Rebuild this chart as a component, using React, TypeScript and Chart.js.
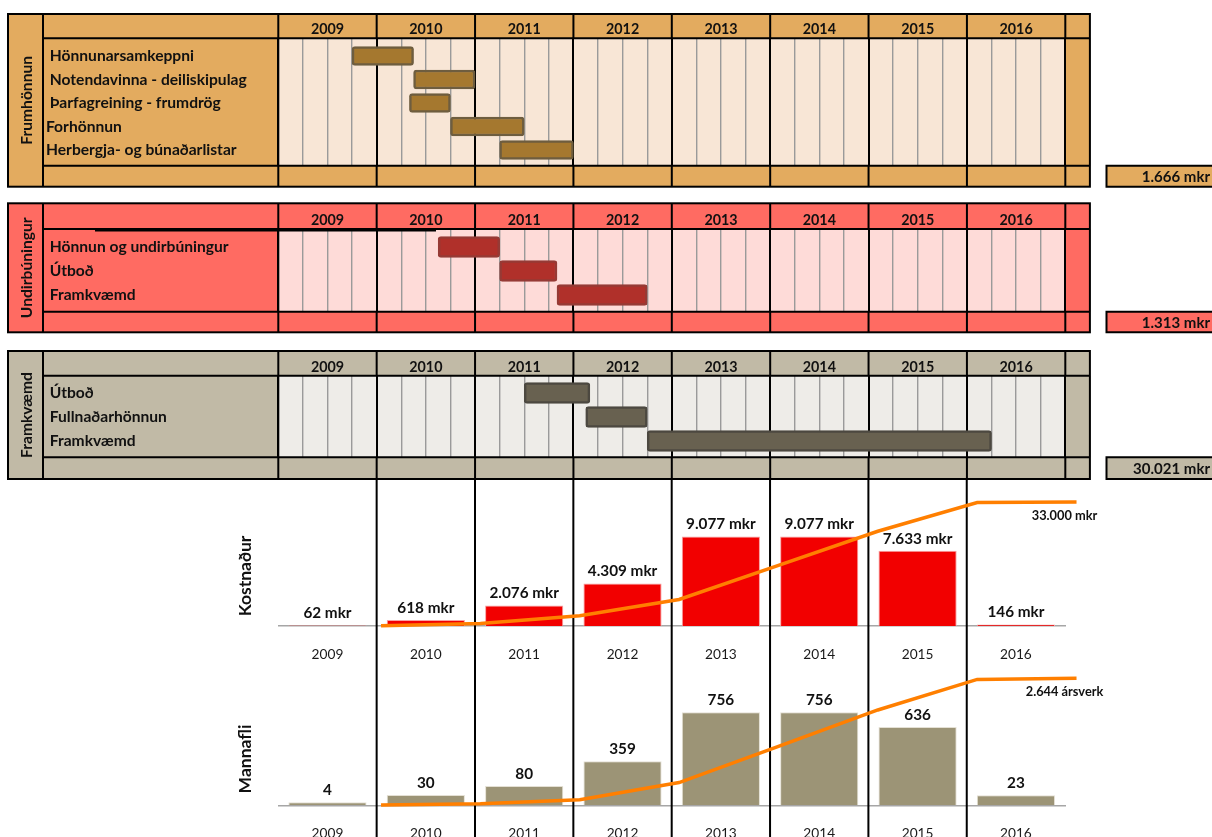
import React, { useEffect, useRef } from "react";
import { Chart, registerables } from "chart.js";

Chart.register(...registerables);

const FONT = "Lato, Carlito, Calibri, 'DejaVu Sans', sans-serif";
Chart.defaults.font.family = FONT;

// ---------------- data ----------------
const YEARS = ["2009", "2010", "2011", "2012", "2013", "2014", "2015", "2016"];
const FIRST_YEAR = 2009;
const LAST_YEAR_END = 2017;
const TIMELINE_END = 2017.25;

const frumTasks = [" Hönnunarsamkeppni", " Notendavinna - deiliskipulag", " Þarfagreining - frumdrög", "Forhönnun", "Herbergja- og búnaðarlistar"];
const frumStart = [2009.75, 2010.375, 2010.333, 2010.75, 2011.25];
const frumEnd = [2010.375, 2011.0, 2010.75, 2011.5, 2012.0];
const frumTotal = "1.666 mkr";

const undirTasks = [" Hönnun og undirbúningur", " Útboð", " Framkvæmd"];
const undirStart = [2010.625, 2011.25, 2011.833];
const undirEnd = [2011.25, 2011.833, 2012.75];
const undirTotal = "1.313 mkr";

const framTasks = [" Útboð", " Fullnaðarhönnun", " Framkvæmd"];
const framStart = [2011.5, 2012.125, 2012.75];
const framEnd = [2012.167, 2012.75, 2016.25];
const framTotal = "30.021 mkr";

const costValues = [62, 618, 2076, 4309, 9077, 9077, 7633, 146];
const costLabels = ["62 mkr", "618 mkr", "2.076 mkr", "4.309 mkr", "9.077 mkr", "9.077 mkr", "7.633 mkr", "146 mkr"];
const cumulativeAt = [2010, 2011, 2012, 2013, 2014, 2015, 2016, 2017];
const costCumulative = [62, 680, 2756, 7065, 16142, 25219, 32852, 33000];
const costTotalLabel = "33.000 mkr";

// bar heights as drawn in the picture (ársverk); labels as printed
const manpowerBars = [24, 84, 157, 359, 756, 756, 636, 81];
const manpowerLabels = ["4", "30", "80", "359", "756", "756", "636", "23"];
const manpowerCumulative = [4, 34, 114, 473, 1229, 1985, 2621, 2644];
const manpowerTotalLabel = "2.644 ársverk";

// ---------------- layout ----------------
const PAGE_W = 1212;
const FRAME_LEFT = 8;
const TITLE_COL_RIGHT = 43;
const LABEL_LEFT = 46;
const PLOT_LEFT = 278.3;
const PLOT_RIGHT = 1089.9;
const PLOT_RIGHT_YEARS = 1065.1;
const BOX_LEFT = 1106.5;

type GanttPanel = {
  top: number; height: number; panelTop: number; headerBottom: number; bodyBottom: number; panelBottom: number;
  yMin: number; yMax: number; title: string; total: string; tasks: string[]; starts: number[]; ends: number[];
  dark: string; light: string; barFill: string; barBorder: string; barThickness: number; extraLine?: boolean;
};

function ganttConfig(p: GanttPanel): any {
  const T = p.panelTop - p.top;
  const HB = p.headerBottom - p.top;
  const BB = p.bodyBottom - p.top;
  const B = p.panelBottom - p.top;
  const xTicks: { value: number }[] = [];
  for (let y = FIRST_YEAR; y < LAST_YEAR_END; y++) for (let q = 0; q < 4; q++) xTicks.push({ value: y + q / 4 });
  xTicks.push({ value: LAST_YEAR_END });
  xTicks.push({ value: TIMELINE_END });
  const isYear = (v: number) => v !== undefined && Math.abs(v - Math.round(v)) < 1e-9;

  const frame = {
    id: "ganttFrame",
    beforeDraw(chart: any) {
      const { ctx, chartArea: ca, scales } = chart;
      const x = scales.x;
      ctx.save();
      ctx.fillStyle = p.dark;
      ctx.fillRect(FRAME_LEFT, T, ca.right - FRAME_LEFT, B - T);
      ctx.fillStyle = p.light;
      ctx.fillRect(ca.left, ca.top, x.getPixelForValue(LAST_YEAR_END) - ca.left, ca.bottom - ca.top);
      ctx.fillStyle = p.dark;
      ctx.fillRect(BOX_LEFT, BB, PAGE_W - BOX_LEFT, B - BB);
      ctx.restore();
    },
    afterDraw(chart: any) {
      const { ctx, chartArea: ca, scales } = chart;
      const x = scales.x;
      ctx.save();
      ctx.strokeStyle = "#000";
      ctx.lineWidth = 2;
      ctx.strokeRect(FRAME_LEFT, T, ca.right - FRAME_LEFT, B - T);
      ctx.beginPath();
      ctx.moveTo(TITLE_COL_RIGHT, T); ctx.lineTo(TITLE_COL_RIGHT, B);
      ctx.moveTo(ca.left, T); ctx.lineTo(ca.left, B);
      ctx.moveTo(TITLE_COL_RIGHT, HB); ctx.lineTo(ca.right, HB);
      ctx.moveTo(TITLE_COL_RIGHT, BB); ctx.lineTo(ca.right, BB);
      for (let yr = FIRST_YEAR + 1; yr <= LAST_YEAR_END; yr++) {
        const px = x.getPixelForValue(yr);
        ctx.moveTo(px, T); ctx.lineTo(px, HB);
        ctx.moveTo(px, BB); ctx.lineTo(px, B);
      }
      ctx.moveTo(PAGE_W + 2, BB); ctx.lineTo(BOX_LEFT, BB); ctx.lineTo(BOX_LEFT, B); ctx.lineTo(PAGE_W + 2, B);
      ctx.stroke();
      if (p.extraLine) {
        ctx.lineWidth = 2.4;
        ctx.beginPath();
        ctx.moveTo(95, HB + 1.2); ctx.lineTo(436, HB + 1.2);
        ctx.stroke();
      }
      ctx.fillStyle = "#111";
      ctx.textBaseline = "middle";
      ctx.textAlign = "right";
      ctx.font = `bold 15px ${FONT}`;
      ctx.fillText(p.total, 1210, (BB + B) / 2 + 1);
      ctx.font = `bold 15.6px ${FONT}`;
      ctx.translate((FRAME_LEFT + TITLE_COL_RIGHT) / 2 + 1, (T + B) / 2);
      ctx.rotate(-Math.PI / 2);
      ctx.textAlign = "center";
      ctx.fillText(p.title, 0, 0);
      ctx.restore();
    },
  };

  return {
    type: "bar",
    data: {
      labels: p.tasks,
      datasets: [
        {
          data: p.tasks.map((_, i) => ({ x: [p.starts[i], p.ends[i]], y: i })),
          backgroundColor: p.barFill,
          borderColor: p.barBorder,
          borderWidth: 2.5,
          borderRadius: 3,
          borderSkipped: false,
          barThickness: p.barThickness,
          grouped: false,
        },
      ],
    },
    options: {
      indexAxis: "y",
      animation: false,
      responsive: false,
      layout: { padding: { top: T, left: LABEL_LEFT, right: PAGE_W - PLOT_RIGHT, bottom: p.height - BB } },
      plugins: { legend: { display: false }, tooltip: { enabled: false } },
      scales: {
        x: {
          type: "linear",
          position: "top",
          offset: false,
          min: FIRST_YEAR,
          max: TIMELINE_END,
          afterBuildTicks: (s: any) => { s.ticks = xTicks.map((t) => ({ ...t })); },
          afterFit: (s: any) => { s.height = HB - T; },
          border: { display: false },
          grid: {
            drawTicks: false,
            color: (c: any) => (isYear(c.tick?.value) ? "#000" : "#9a9a9a"),
            lineWidth: (c: any) => (isYear(c.tick?.value) ? 2 : 1.4),
          },
          ticks: {
            autoSkip: false,
            maxRotation: 0,
            minRotation: 0,
            padding: 0,
            color: "#111",
            font: { size: 14.3, weight: "bold" },
            callback: (v: number) => {
              const yr = Math.floor(v);
              return Math.abs(v - yr - 0.5) < 1e-9 && yr < LAST_YEAR_END ? YEARS[yr - FIRST_YEAR] : "";
            },
          },
        },
        y: {
          type: "linear",
          reverse: true,
          offset: false,
          min: p.yMin,
          max: p.yMax,
          afterBuildTicks: (s: any) => { s.ticks = p.tasks.map((_, i) => ({ value: i })); },
          afterFit: (s: any) => { s.width = PLOT_LEFT - LABEL_LEFT; },
          grid: { display: false, drawTicks: false },
          border: { display: false },
          ticks: {
            autoSkip: false,
            crossAlign: "far",
            padding: 0,
            color: "#111",
            font: { size: 15.6, weight: "bold" },
            callback: (v: number) => p.tasks[v] ?? "",
          },
        },
      },
    },
    plugins: [frame],
  };
}

type SeriesPanel = {
  top: number; height: number; baseline: number; bars: number[]; labels: string[]; cumulative: number[];
  totalLabel: string; title: string; titleY: number; barColor: string; barBorder: string; yMax: number; lineMax: number;
};

function seriesConfig(s: SeriesPanel): any {
  const base = s.baseline - s.top;
  const deco = {
    id: "seriesDeco",
    beforeDatasetsDraw(chart: any) {
      const { ctx } = chart;
      const x = chart.scales.x;
      ctx.save();
      ctx.strokeStyle = "#000";
      ctx.lineWidth = 2;
      ctx.beginPath();
      for (let i = 1; i < YEARS.length; i++) {
        const px = (x.getPixelForValue(i - 1) + x.getPixelForValue(i)) / 2;
        ctx.moveTo(px, 0); ctx.lineTo(px, chart.height);
      }
      ctx.stroke();
      ctx.restore();
    },
    afterDatasetsDraw(chart: any) {
      const { ctx } = chart;
      ctx.save();
      ctx.fillStyle = "#111";
      ctx.textAlign = "center";
      ctx.textBaseline = "middle";
      ctx.font = `bold 15.3px ${FONT}`;
      chart.getDatasetMeta(1).data.forEach((el: any, i: number) => ctx.fillText(s.labels[i], el.x, el.y - 12));
      const lm = chart.getDatasetMeta(0).data;
      const last = lm[lm.length - 1];
      ctx.font = `bold 12.8px ${FONT}`;
      ctx.fillText(s.totalLabel, last.x - 12, last.y + 14);
      ctx.font = `bold 17.5px ${FONT}`;
      ctx.translate(245, s.titleY - s.top);
      ctx.rotate(-Math.PI / 2);
      ctx.fillText(s.title, 0, 0);
      ctx.restore();
    },
  };
  return {
    type: "bar",
    data: {
      labels: YEARS,
      datasets: [
        {
          type: "line",
          data: cumulativeAt.map((yr, i) => ({ x: yr, y: s.cumulative[i] })),
          borderColor: "#FF7F00",
          borderWidth: 3.5,
          pointRadius: 0,
          tension: 0,
          xAxisID: "xLine",
          yAxisID: "yLine",
          clip: false,
          order: 0,
        },
        {
          type: "bar",
          data: s.bars,
          backgroundColor: s.barColor,
          borderColor: s.barBorder,
          borderWidth: { top: 1, left: 1, right: 1, bottom: 0 },
          barPercentage: 0.795,
          categoryPercentage: 1,
          grouped: false,
          xAxisID: "x",
          yAxisID: "y",
          order: 1,
        },
      ],
    },
    options: {
      animation: false,
      responsive: false,
      layout: { padding: { top: 0, left: PLOT_LEFT, right: PAGE_W - PLOT_RIGHT_YEARS, bottom: 0 } },
      plugins: { legend: { display: false }, tooltip: { enabled: false } },
      scales: {
        x: {
          type: "category",
          offset: true,
          afterFit: (sc: any) => { sc.height = s.height - base; },
          grid: { display: false, drawTicks: false },
          border: { display: true, color: "#a6a6a6", width: 1.5 },
          ticks: { padding: 20.5, color: "#1a1a1a", font: { size: 13.7 }, maxRotation: 0, autoSkip: false },
        },
        xLine: { type: "linear", display: false, offset: false, min: 2008.966, max: 2016.885 },
        y: { display: false, min: 0, max: s.yMax },
        yLine: { display: false, min: 0, max: s.lineMax },
      },
    },
    plugins: [deco],
  };
}

function ChartCanvas({ top, height, config }: { top: number; height: number; config: () => any }) {
  const ref = useRef<HTMLCanvasElement>(null);
  useEffect(() => {
    const chart = new Chart(ref.current as HTMLCanvasElement, config());
    return () => chart.destroy();
  }, []);
  return (
    <canvas
      ref={ref}
      width={PAGE_W}
      height={height}
      style={{ position: "absolute", left: 0, top, width: PAGE_W, height, display: "block" }}
    />
  );
}

export default function App() {
  const panels: GanttPanel[] = [
    {
      top: 0, height: 195, panelTop: 14, headerBottom: 38.3, bodyBottom: 165.7, panelBottom: 186.7,
      yMin: -0.753, yMax: 4.668, title: "Frumhönnun", total: frumTotal, tasks: frumTasks, starts: frumStart, ends: frumEnd,
      dark: "#E3AB5F", light: "#F8E6D6", barFill: "#A5782F", barBorder: "#6E5D3F", barThickness: 19,
    },
    {
      top: 195, height: 147, panelTop: 203.3, headerBottom: 229, bodyBottom: 311.7, panelBottom: 332.3,
      yMin: -0.75, yMax: 2.696, title: "Undirbúningur", total: undirTotal, tasks: undirTasks, starts: undirStart, ends: undirEnd,
      dark: "#FF6B62", light: "#FEDBD8", barFill: "#B0302A", barBorder: "#963A35", barThickness: 21, extraLine: true,
    },
    {
      top: 342, height: 138, panelTop: 351, headerBottom: 375.7, bodyBottom: 457.3, panelBottom: 479,
      yMin: -0.72, yMax: 2.68, title: "Framkvæmd", total: framTotal, tasks: framTasks, starts: framStart, ends: framEnd,
      dark: "#C1BAA6", light: "#EEECE8", barFill: "#686150", barBorder: "#4C4840", barThickness: 21,
    },
  ];
  const series: SeriesPanel[] = [
    {
      top: 480, height: 190, baseline: 626, bars: costValues, labels: costLabels, cumulative: costCumulative,
      totalLabel: costTotalLabel, title: "Kostnaður", titleY: 576, barColor: "#F20000", barBorder: "#F7A1A1",
      yMax: 14800, lineMax: 38850,
    },
    {
      top: 670, height: 167, baseline: 805.3, bars: manpowerBars, labels: manpowerLabels, cumulative: manpowerCumulative,
      totalLabel: manpowerTotalLabel, title: "Mannafli", titleY: 759, barColor: "#9C9476", barBorder: "#E4E0D4",
      yMax: 1100, lineMax: 2817,
    },
  ];
  return (
    <div style={{ position: "absolute", left: 0, top: 0, width: PAGE_W, height: 837, overflow: "hidden", background: "#fff" }}>
      {panels.map((p, i) => (
        <ChartCanvas key={"g" + i} top={p.top} height={p.height} config={() => ganttConfig(p)} />
      ))}
      {series.map((s, i) => (
        <ChartCanvas key={"s" + i} top={s.top} height={s.height} config={() => seriesConfig(s)} />
      ))}
    </div>
  );
}
